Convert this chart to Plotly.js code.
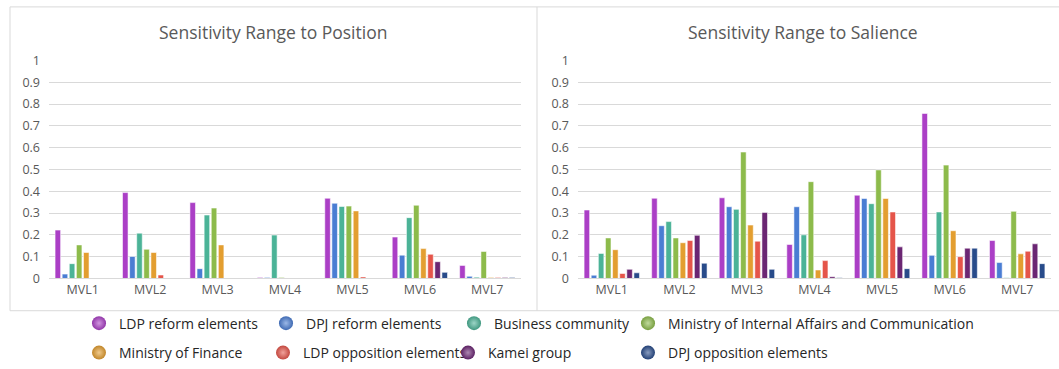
<!DOCTYPE html>
<html>
<head>
<meta charset="utf-8">
<script src="https://cdn.plot.ly/plotly-3.0.1.min.js"></script>
<style>
html,body{margin:0;padding:0;background:#fff;}
#chart{width:1059px;height:369px;}
</style>
</head>
<body>
<div id="chart"></div>
<script>
// ---- data ----
const categories = ['MVL1','MVL2','MVL3','MVL4','MVL5','MVL6','MVL7'];
const seriesNames = ['LDP reform elements','DPJ reform elements','Business community','Ministry of Internal Affairs and Communication','Ministry of Finance','LDP opposition elements','Kamei group','DPJ opposition elements'];
const seriesColors = ['#AB3FC6','#4A7DD3','#4BB397','#8DBB4B','#E39E30','#E5554A','#6B2673','#284B8A'];

// Sensitivity Range to Position
const posLDPreform   = [0.222, 0.394, 0.348, 0.005, 0.368, 0.190, 0.060];
const posDPJreform   = [0.020, 0.101, 0.045, 0.005, 0.345, 0.107, 0.010];
const posBusiness    = [0.068, 0.208, 0.291, 0.199, 0.330, 0.279, 0.006];
const posMIAC        = [0.154, 0.134, 0.323, 0.005, 0.332, 0.336, 0.124];
const posMoF         = [0.119, 0.119, 0.154, 0.000, 0.310, 0.137, 0.004];
const posLDPopp      = [0.000, 0.016, 0.000, 0.000, 0.007, 0.111, 0.004];
const posKamei       = [0.000, 0.000, 0.000, 0.000, 0.000, 0.077, 0.004];
const posDPJopp      = [0.000, 0.000, 0.000, 0.000, 0.000, 0.028, 0.004];

// Sensitivity Range to Salience
const salLDPreform   = [0.314, 0.368, 0.370, 0.156, 0.382, 0.757, 0.174];
const salDPJreform   = [0.015, 0.242, 0.329, 0.329, 0.367, 0.106, 0.073];
const salBusiness    = [0.115, 0.261, 0.317, 0.200, 0.343, 0.305, 0.003];
const salMIAC        = [0.186, 0.186, 0.580, 0.444, 0.498, 0.520, 0.308];
const salMoF         = [0.132, 0.164, 0.245, 0.039, 0.367, 0.219, 0.113];
const salLDPopp      = [0.023, 0.174, 0.171, 0.082, 0.305, 0.100, 0.125];
const salKamei       = [0.042, 0.198, 0.303, 0.008, 0.145, 0.139, 0.159];
const salDPJopp      = [0.026, 0.070, 0.042, 0.003, 0.045, 0.139, 0.068];

const yTickVals = [0,0.1,0.2,0.3,0.4,0.5,0.6,0.7,0.8,0.9,1];
const yTickText = ['0','0.1','0.2','0.3','0.4','0.5','0.6','0.7','0.8','0.9','1'];
const chartTitles = ['Sensitivity Range to Position','Sensitivity Range to Salience'];

// ---- layout helpers ----
const W = 1059, H = 369;
const px = v => v / W;
const py = v => 1 - v / H;

function tint(hex, f) {
  const n = parseInt(hex.slice(1), 16);
  const r = (n >> 16) & 255, g = (n >> 8) & 255, b = n & 255;
  const m = c => Math.round(c + (255 - c) * f);
  return 'rgb(' + m(r) + ',' + m(g) + ',' + m(b) + ')';
}
function shade(hex, f) {
  const n = parseInt(hex.slice(1), 16);
  const r = (n >> 16) & 255, g = (n >> 8) & 255, b = n & 255;
  const m = c => Math.round(c * (1 - f));
  return 'rgb(' + m(r) + ',' + m(g) + ',' + m(b) + ')';
}

const positionSeries = [posLDPreform,posDPJreform,posBusiness,posMIAC,posMoF,posLDPopp,posKamei,posDPJopp];
const salienceSeries = [salLDPreform,salDPJreform,salBusiness,salMIAC,salMoF,salLDPopp,salKamei,salDPJopp];

const traces = [];
function addBars(seriesList, xa, ya) {
  seriesList.forEach((vals, i) => {
    traces.push({
      type: 'bar', x: categories, y: vals, name: seriesNames[i],
      xaxis: xa, yaxis: ya, showlegend: false,
      marker: {color: seriesColors[i], line: {color: 'rgba(255,255,255,0.55)', width: 1}},
      hoverinfo: 'x+y+name'
    });
  });
}
addBars(positionSeries, 'x', 'y');
addBars(salienceSeries, 'x2', 'y2');

// legend entries (sphere-like markers), one legend box per entry
const legendIds = ['legend','legend2','legend3','legend4','legend5','legend6','legend7','legend8'];
seriesNames.forEach((n, i) => {
  traces.push({
    type: 'scatter', mode: 'markers', x: [null], y: [null], name: n,
    xaxis: 'x', yaxis: 'y',
    legend: legendIds[i],
    marker: {symbol: 'circle', size: 14, color: shade(seriesColors[i], 0.15),
             gradient: {type: 'radial', color: tint(seriesColors[i], 0.45)},
             line: {width: 0}},
    showlegend: true
  });
});

const tickFont = {family: 'Open Sans, Noto Sans, sans-serif', size: 12.5, color: '#595959'};
const yCommon = {
  range: [0, 1], tickvals: yTickVals, ticktext: yTickText,
  showgrid: true, gridcolor: '#d9d9d9', gridwidth: 1,
  zeroline: false, showline: false, ticks: '', tickfont: tickFont,
  ticklabelstandoff: 8, fixedrange: true
};
const xCommon = {
  type: 'category', showgrid: false, zeroline: false,
  showline: true, linecolor: '#d9d9d9', linewidth: 1,
  ticks: '', tickfont: tickFont, fixedrange: true
};
const yDomain = [py(282.3), py(61.3)];

const legendFont = {family: 'Open Sans, Noto Sans, sans-serif', size: 14, color: '#262626'};
const legendBase = {
  orientation: 'h', xanchor: 'left', yanchor: 'middle',
  font: legendFont, bgcolor: 'rgba(0,0,0,0)', borderwidth: 0,
  itemclick: false, itemdoubleclick: false
};
// marker centre positions of the legend entries (px)
const legendMarkerX = [98, 285, 473, 647, 98, 282, 467, 647];
const legendRowY = [328, 328, 328, 328, 358, 358, 358, 358];

const lineStyle = {color: '#d9d9d9', width: 1};
const layout = {
  width: W, height: H,
  margin: {l: 0, r: 0, t: 0, b: 0},
  paper_bgcolor: '#ffffff', plot_bgcolor: '#ffffff',
  showlegend: true,
  barmode: 'group', bargap: 0.157, bargroupgap: 0.22,
  xaxis: Object.assign({}, xCommon, {domain: [px(49), px(521)], anchor: 'y'}),
  yaxis: Object.assign({}, yCommon, {domain: yDomain, anchor: 'x'}),
  xaxis2: Object.assign({}, xCommon, {domain: [px(578), px(1051)], anchor: 'y2'}),
  yaxis2: Object.assign({}, yCommon, {domain: yDomain, anchor: 'x2'}),
  annotations: [
    {text: chartTitles[0], xref: 'paper', yref: 'paper', x: px(273), y: py(32),
     xanchor: 'center', yanchor: 'middle', showarrow: false,
     font: {family: 'Open Sans, Noto Sans, sans-serif', size: 17.5, color: '#595959'}},
    {text: chartTitles[1], xref: 'paper', yref: 'paper', x: px(803), y: py(32),
     xanchor: 'center', yanchor: 'middle', showarrow: false,
     font: {family: 'Open Sans, Noto Sans, sans-serif', size: 17.5, color: '#595959'}}
  ],
  shapes: [
    {type: 'line', xref: 'paper', yref: 'paper', x0: px(10), x1: 1, y0: py(7), y1: py(7), line: lineStyle},
    {type: 'line', xref: 'paper', yref: 'paper', x0: px(10), x1: px(10), y0: py(7), y1: py(315), line: lineStyle},
    {type: 'line', xref: 'paper', yref: 'paper', x0: px(537), x1: px(537), y0: py(7), y1: py(315), line: lineStyle},
    {type: 'line', xref: 'paper', yref: 'paper', x0: px(10), x1: 1, y0: py(315), y1: py(315), line: lineStyle}
  ]
};
legendIds.forEach((id, i) => {
  layout[id] = Object.assign({}, legendBase, {x: px(legendMarkerX[i] - 19), y: py(legendRowY[i])});
});

Plotly.newPlot('chart', traces, layout, {displayModeBar: false, staticPlot: true});
</script>
</body>
</html>
